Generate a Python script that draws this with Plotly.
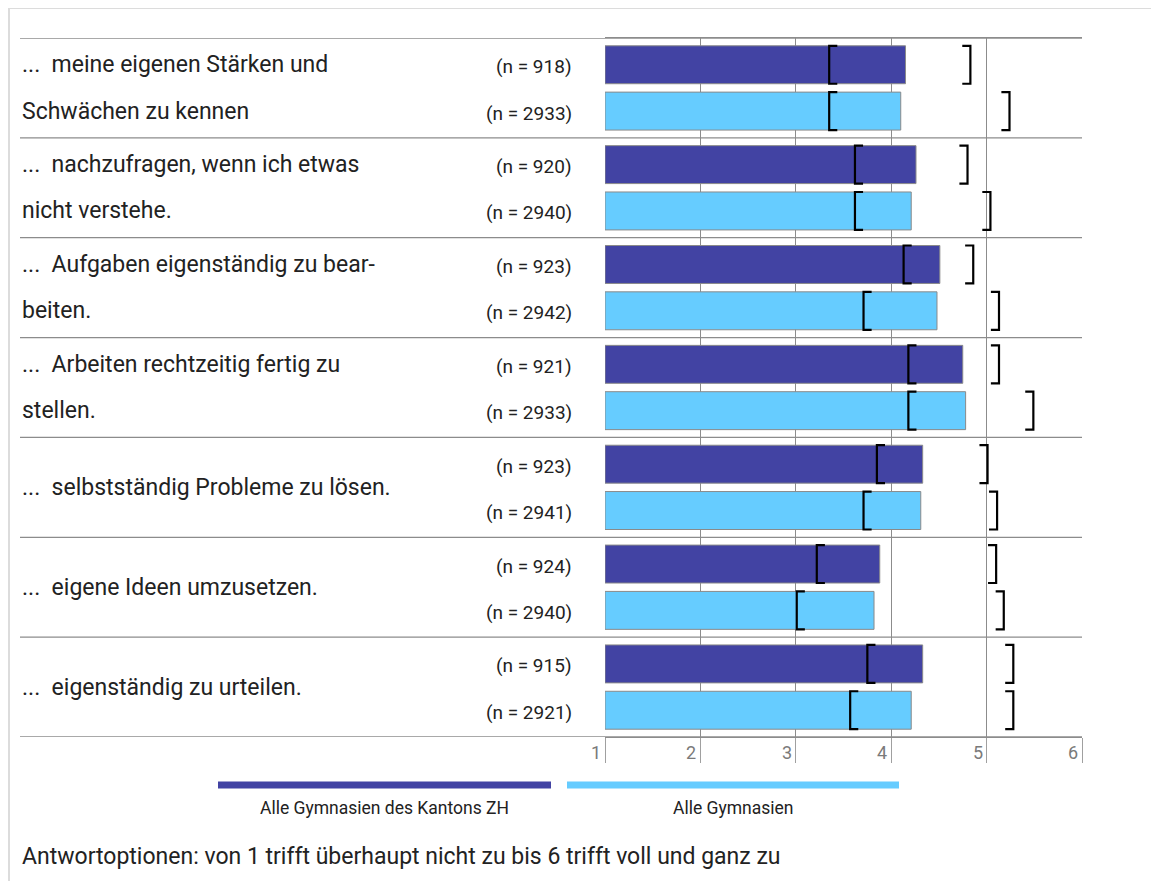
import plotly.graph_objects as go

# ── Data ──────────────────────────────────────────────────────────────────────
label_lines = [
    ["...\u00a0 meine eigenen Stärken und", "Schwächen zu kennen"],
    ["...\u00a0 nachzufragen, wenn ich etwas", "nicht verstehe."],
    ["...\u00a0 Aufgaben eigenständig zu bear-", "beiten."],
    ["...\u00a0 Arbeiten rechtzeitig fertig zu", "stellen."],
    ["...\u00a0 selbstständig Probleme zu lösen."],
    ["...\u00a0 eigene Ideen umzusetzen."],
    ["...\u00a0 eigenständig zu urteilen."],
]
n_zh = [918, 920, 923, 921, 923, 924, 915]
n_all = [2933, 2940, 2942, 2933, 2941, 2940, 2921]

mean_zh = [4.15, 4.26, 4.51, 4.75, 4.33, 3.88, 4.33]
mean_all = [4.10, 4.21, 4.48, 4.78, 4.31, 3.82, 4.21]
lo_zh = [3.35, 3.62, 4.13, 4.18, 3.85, 3.22, 3.75]
hi_zh = [4.83, 4.80, 4.86, 5.13, 5.01, 5.10, 5.28]
lo_all = [3.35, 3.62, 3.71, 4.18, 3.71, 3.01, 3.57]
hi_all = [5.24, 5.04, 5.13, 5.49, 5.11, 5.18, 5.28]

series_names = ["Alle Gymnasien des Kantons ZH", "Alle Gymnasien"]
tick_vals = [1, 2, 3, 4, 5, 6]
note = "Antwortoptionen: von 1 trifft überhaupt nicht zu bis 6 trifft voll und ganz zu"

# ── Style ─────────────────────────────────────────────────────────────────────
_DARK = "#4243A3"
_LIGHT = "#66CCFF"
_EDGE = "#8a8a8a"
_LINE = "#8c8c8c"
_TEXT = "#222222"
_GRAY = "#7a7a7a"
_FONT = "Roboto, sans-serif"

# page draws the figure 8px in from the top/left corner
W, H = 1151, 873
L, R, T, B = 597, 1074, 30, 729      # plot area in figure pixels

OFF = 0.232      # offset of each bar from the row centre
BW = 0.38        # bar thickness (row = 1)
TICK = 0.085     # bracket foot length in x units


def px_x(px):
    return (px - L) / (R - L)


def px_y(py):
    return (B - py) / (B - T)


rows = list(range(len(label_lines)))
y_zh = [r - OFF for r in rows]
y_all = [r + OFF for r in rows]

fig = go.Figure()

for name, vals, ys, col in [(series_names[0], mean_zh, y_zh, _DARK),
                            (series_names[1], mean_all, y_all, _LIGHT)]:
    fig.add_trace(go.Bar(
        x=[v - 1 for v in vals], y=ys, base=1,
        orientation="h", width=BW, name=name,
        marker=dict(color=col, line=dict(color=_EDGE, width=1)),
        customdata=vals,
        hovertemplate=name + ": %{customdata:.2f}<extra></extra>",
    ))


def brackets(lo, hi, ys):
    xs, yy = [], []
    for a, b, y in zip(lo, hi, ys):
        top, bot = y - BW / 2, y + BW / 2
        xs += [a + TICK, a, a, a + TICK, None, b - TICK, b, b, b - TICK, None]
        yy += [top, top, bot, bot, None, top, top, bot, bot, None]
    return xs, yy


for lo, hi, ys in [(lo_zh, hi_zh, y_zh), (lo_all, hi_all, y_all)]:
    bx, by = brackets(lo, hi, ys)
    fig.add_trace(go.Scatter(
        x=bx, y=by, mode="lines",
        line=dict(color="black", width=2.2),
        hoverinfo="skip",
    ))

# ── Table lines, labels ───────────────────────────────────────────────────────
shapes = []
for r in rows + [len(rows)]:
    shapes.append(dict(
        type="line", xref="paper", yref="y",
        x0=px_x(12), x1=1, y0=r - 0.5, y1=r - 0.5,
        line=dict(color=_LINE, width=1.3),
    ))
# outer container border
shapes.append(dict(
    type="rect", xref="paper", yref="paper",
    x0=px_x(1), x1=px_x(1200), y0=px_y(0), y1=px_y(950),
    line=dict(color="#dcdcdc", width=2), layer="below",
))
# legend swatches
shapes.append(dict(type="line", xref="paper", yref="paper",
                   x0=px_x(210), x1=px_x(543), y0=px_y(777), y1=px_y(777),
                   line=dict(color=_DARK, width=7)))
shapes.append(dict(type="line", xref="paper", yref="paper",
                   x0=px_x(559), x1=px_x(891), y0=px_y(777), y1=px_y(777),
                   line=dict(color=_LIGHT, width=7)))

annotations = []
for r, lines in enumerate(label_lines):
    ys = [r] if len(lines) == 1 else [y_zh[r], y_all[r]]
    for txt, y in zip(lines, ys):
        annotations.append(dict(
            text=txt, x=px_x(12), xref="paper", y=y, yref="y",
            xanchor="left", yanchor="middle", showarrow=False, yshift=0,
            font=dict(family=_FONT, size=23, color=_TEXT),
        ))
    for n, y in [(n_zh[r], y_zh[r]), (n_all[r], y_all[r])]:
        annotations.append(dict(
            text=f"(n = {n})", x=px_x(566), xref="paper", y=y, yref="y",
            xanchor="right", yanchor="middle", showarrow=False, yshift=-2,
            font=dict(family=_FONT, size=19, color=_TEXT),
        ))

for v in tick_vals:
    annotations.append(dict(
        text=str(v), x=v, xref="x", y=0, yref="paper",
        xanchor="right", yanchor="top", xshift=-2, yshift=-3,
        showarrow=False, font=dict(family=_FONT, size=18, color=_GRAY),
    ))

for name, cx in [(series_names[0], 376), (series_names[1], 725)]:
    annotations.append(dict(
        text=name, x=px_x(cx), xref="paper", y=px_y(800), yref="paper",
        xanchor="center", yanchor="middle", showarrow=False,
        font=dict(family=_FONT, size=17.5, color=_TEXT),
    ))

annotations.append(dict(
    text=note, x=px_x(12), xref="paper", y=px_y(849), yref="paper",
    xanchor="left", yanchor="middle", showarrow=False,
    font=dict(family=_FONT, size=23, color=_TEXT),
))

fig.update_layout(
    width=W, height=H,
    plot_bgcolor="white", paper_bgcolor="white",
    showlegend=False, barmode="overlay",
    margin=dict(l=L, r=W - R, t=T, b=H - B, autoexpand=False),
    font=dict(family=_FONT, color=_TEXT),
    shapes=shapes, annotations=annotations,
    xaxis=dict(
        range=[1, 6], tickvals=tick_vals, showticklabels=False,
        showgrid=True, gridcolor=_LINE, gridwidth=1,
        ticks="outside", ticklen=25, tickcolor="#a0a0a0", tickwidth=1,
        zeroline=False, showline=True, linecolor=_LINE, mirror=True,
    ),
    yaxis=dict(
        range=[len(rows) - 0.5, -0.5], showgrid=False, showticklabels=False,
        zeroline=False, showline=False,
    ),
)

fig.write_html("out.html")
